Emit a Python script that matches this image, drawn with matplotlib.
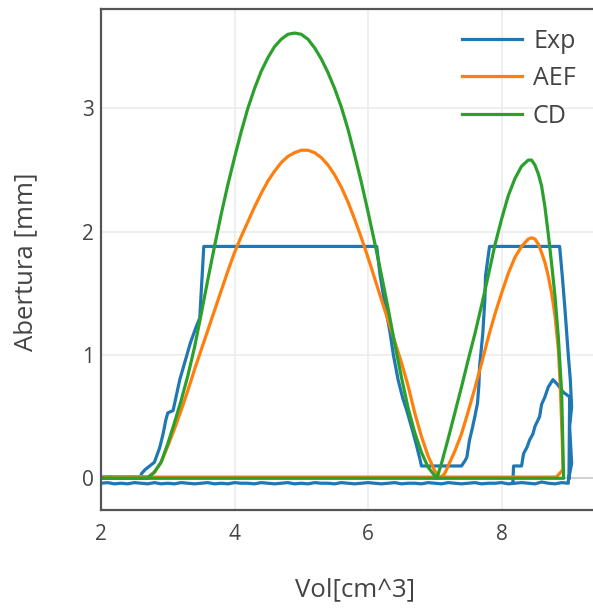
import numpy as np
import matplotlib
matplotlib.use("Agg")
import matplotlib.pyplot as plt

plt.rcParams['font.family'] = ['Open Sans', 'DejaVu Sans']

# Exp: main trace (opening, plateaus, closing)
exp_x = [2.00, 2.58, 2.61, 2.66, 2.73, 2.80, 2.88, 2.93, 2.97, 3.00, 3.08, 3.12, 3.18,
         3.26, 3.34, 3.42, 3.48, 3.50, 3.54, 6.13, 6.18, 6.24, 6.33, 6.38, 6.45, 6.52,
         6.58, 6.66, 6.72, 6.78, 6.80, 7.40, 7.45, 7.48, 7.52, 7.56, 7.60, 7.64, 7.66,
         7.67, 7.72, 7.75, 7.76, 7.82, 8.87, 8.91, 8.95, 9.00, 9.03, 9.05, 9.02, 9.05,
         9.00]
exp_y = [0.00, 0.00, 0.04, 0.07, 0.10, 0.13, 0.25, 0.36, 0.47, 0.53, 0.55, 0.65, 0.80,
         0.95, 1.10, 1.22, 1.30, 1.50, 1.88, 1.88, 1.65, 1.45, 1.18, 1.00, 0.80, 0.65,
         0.55, 0.40, 0.28, 0.15, 0.10, 0.10, 0.14, 0.17, 0.31, 0.40, 0.50, 0.61, 0.75,
         0.90, 1.18, 1.45, 1.64, 1.88, 1.88, 1.64, 1.37, 1.00, 0.80, 0.58, 0.42, 0.12,
         -0.02]
# Exp: noisy return along the baseline
base_x = [9.0, 8.9, 8.8, 8.7, 8.6, 8.5, 8.4, 8.3, 8.2, 8.1, 8.0, 7.9, 7.8, 7.7, 7.6,
          7.5, 7.4, 7.3, 7.2, 7.1, 7.0, 6.9, 6.8, 6.7, 6.6, 6.5, 6.4, 6.3, 6.2, 6.1,
          6.0, 5.9, 5.8, 5.7, 5.6, 5.5, 5.4, 5.3, 5.2, 5.1, 5.0, 4.9, 4.8, 4.7, 4.6,
          4.5, 4.4, 4.3, 4.2, 4.1, 4.0, 3.9, 3.8, 3.7, 3.6, 3.5, 3.4, 3.3, 3.2, 3.1,
          3.0, 2.9, 2.8, 2.7, 2.6, 2.5, 2.4, 2.3, 2.2, 2.1, 2.0]
base_y = [-0.04, -0.035, -0.045, -0.04, -0.03, -0.045, -0.04, -0.035, -0.04, -0.045,
          -0.035, -0.04, -0.04, -0.045, -0.035, -0.04, -0.045, -0.04, -0.035, -0.045,
          -0.04, -0.035, -0.045, -0.04, -0.04, -0.045, -0.035, -0.04, -0.045, -0.04,
          -0.035, -0.04, -0.045, -0.04, -0.035, -0.045, -0.04, -0.04, -0.035, -0.045,
          -0.04, -0.045, -0.035, -0.04, -0.045, -0.04, -0.035, -0.045, -0.04, -0.04,
          -0.035, -0.045, -0.04, -0.045, -0.035, -0.04, -0.045, -0.04, -0.035, -0.045,
          -0.04, -0.045, -0.035, -0.045, -0.04, -0.035, -0.045, -0.04, -0.045, -0.035,
          -0.04]
# Exp: small second bump near 8.2-9.0
bump_x = [8.17, 8.18, 8.30, 8.33, 8.38, 8.42, 8.47, 8.50, 8.57, 8.60, 8.65, 8.70,
          8.77, 8.84, 8.92, 9.02, 9.01]
bump_y = [-0.03, 0.10, 0.10, 0.20, 0.25, 0.31, 0.36, 0.42, 0.50, 0.60, 0.66, 0.74,
          0.80, 0.76, 0.70, 0.66, 0.00]

# AEF model
aef_x = [2.00, 2.70, 2.80, 2.90, 3.00, 3.10, 3.20, 3.30, 3.40, 3.50, 3.60, 3.70, 3.80,
         3.90, 4.00, 4.10, 4.20, 4.30, 4.40, 4.50, 4.60, 4.70, 4.80, 4.90, 5.00, 5.10,
         5.20, 5.30, 5.40, 5.50, 5.60, 5.70, 5.80, 5.90, 6.00, 6.10, 6.20, 6.30, 6.40,
         6.50, 6.60, 6.70, 6.80, 6.90, 7.00, 7.08,
         7.15, 7.20, 7.30, 7.40, 7.50, 7.60, 7.70, 7.80, 7.90, 8.00, 8.10, 8.20, 8.30,
         8.40, 8.45, 8.50, 8.55, 8.60, 8.65, 8.70, 8.75, 8.80, 8.85, 8.88, 8.91, 8.92,
         8.82, 2.00]
aef_y = [0.01, 0.01, 0.05, 0.13, 0.26, 0.40, 0.55, 0.71, 0.88, 1.04, 1.20, 1.36, 1.52,
         1.68, 1.83, 1.96, 2.08, 2.20, 2.31, 2.41, 2.49, 2.56, 2.61, 2.64, 2.66, 2.66,
         2.64, 2.60, 2.54, 2.46, 2.36, 2.24, 2.10, 1.95, 1.79, 1.62, 1.45, 1.28, 1.11,
         0.94, 0.75, 0.53, 0.34, 0.18, 0.06, 0.00,
         0.04, 0.10, 0.22, 0.36, 0.54, 0.73, 0.93, 1.14, 1.33, 1.50, 1.66, 1.79, 1.88,
         1.94, 1.95, 1.94, 1.90, 1.83, 1.75, 1.64, 1.50, 1.32, 1.05, 0.75, 0.30, 0.07,
         0.01, 0.01]

# CD model
cd_x = [2.00, 2.70, 2.80, 2.90, 3.00, 3.10, 3.20, 3.30, 3.40, 3.50, 3.60, 3.70, 3.80,
        3.90, 4.00, 4.10, 4.20, 4.30, 4.40, 4.50, 4.60, 4.70, 4.80, 4.90, 5.00, 5.10,
        5.20, 5.30, 5.40, 5.50, 5.60, 5.70, 5.80, 5.90, 6.00, 6.10, 6.20, 6.30, 6.40,
        6.50, 6.60, 6.70, 6.80, 6.90, 7.00, 7.03,
        7.10, 7.20, 7.30, 7.40, 7.50, 7.60, 7.70, 7.80, 7.90, 8.00, 8.10, 8.20, 8.30,
        8.40, 8.45, 8.50, 8.55, 8.60, 8.65, 8.70, 8.75, 8.80, 8.85, 8.90, 8.93, 2.00]
cd_y = [0.00, 0.00, 0.05, 0.13, 0.28, 0.45, 0.63, 0.83, 1.06, 1.33, 1.61, 1.88, 2.14,
        2.38, 2.60, 2.81, 3.00, 3.16, 3.30, 3.41, 3.50, 3.56, 3.60, 3.61, 3.60, 3.56,
        3.49, 3.40, 3.29, 3.16, 3.01, 2.83, 2.62, 2.40, 2.16, 1.91, 1.65, 1.38, 1.09,
        0.82, 0.57, 0.37, 0.21, 0.09, 0.02, 0.00,
        0.12, 0.32, 0.53, 0.74, 0.96, 1.17, 1.40, 1.64, 1.89, 2.10, 2.29, 2.43, 2.53,
        2.58, 2.58, 2.54, 2.47, 2.37, 2.20, 1.98, 1.74, 1.48, 1.15, 0.70, 0.00, 0.00]

x_ticks = [2, 4, 6, 8]
y_ticks = [0, 1, 2, 3]

text_col = '#444444'

fig = plt.figure(figsize=(5.93, 6.11), dpi=100)
ax = fig.add_axes([101 / 593, 1 - 510 / 611, 492 / 593, 501 / 611])

ax.set_xlim(2, 9.37)
ax.set_ylim(-0.257, 3.805)

ax.set_xticks(x_ticks)
ax.set_yticks(y_ticks)
ax.grid(True, color='#ececec', lw=1.2)
ax.set_axisbelow(True)
ax.axhline(0, color=text_col, lw=1.3, zorder=0.5)

for side in ['left', 'bottom', 'top']:
    ax.spines[side].set_color('#555555')
    ax.spines[side].set_linewidth(1.6)
ax.spines['right'].set_visible(False)
ax.tick_params(length=0, labelsize=15, labelcolor=text_col)
ax.tick_params(axis='x', pad=10)
ax.tick_params(axis='y', pad=5)

lw = 2.3
ex = exp_x + base_x + [np.nan] + bump_x
ey = exp_y + base_y + [np.nan] + bump_y
ax.plot(ex, ey, color='#1f77b4', lw=lw, label='Exp', solid_joinstyle='round')
ax.plot(aef_x, aef_y, color='#ff7f0e', lw=lw, label='AEF', solid_joinstyle='round')
ax.plot(cd_x, cd_y, color='#2ca02c', lw=lw, label='CD', solid_joinstyle='round')

ax.set_xlabel('Vol[cm^3]', fontsize=18.5, color=text_col)
ax.set_ylabel('Abertura [mm]', fontsize=18.5, color=text_col)
ax.xaxis.set_label_coords(0.516, -0.16)
ax.xaxis.label.set_va('center')
ax.yaxis.set_label_coords(-0.152, 0.495)
ax.yaxis.label.set_va('center')

leg = ax.legend(loc='upper left', bbox_to_anchor=((462 - 101) / 492, 0.961),
                frameon=False, fontsize=18, handlelength=2.4, handletextpad=0.44,
                labelspacing=0.50, borderpad=0, borderaxespad=0)
for t in leg.get_texts():
    t.set_color(text_col)

fig.savefig('out.png', dpi=100)
